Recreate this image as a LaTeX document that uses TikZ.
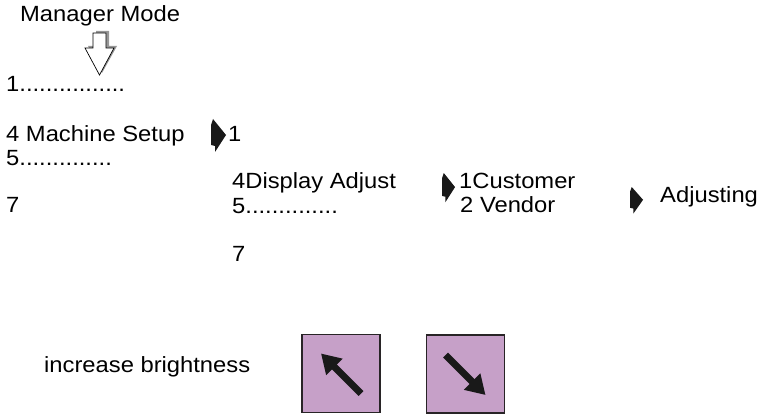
\documentclass[tikz,border=0pt]{standalone}
\usepackage{fontspec}
\setmainfont{Liberation Sans}[FakeStretch=1.08]
\usepackage{xcolor}
\usepackage{tikz}
\usetikzlibrary{arrows.meta,positioning,calc}
\definecolor{keyPurple}{RGB}{198,160,200}
\definecolor{keyEdge}  {RGB}{ 40, 36, 38}
\definecolor{shadeGray}{RGB}{150,150,150}

\tikzset{
  menutext/.style={anchor=base west,inner sep=0pt,font=\fontsize{22}{26}\selectfont},
  keybox/.style={draw=keyEdge,line width=1.3pt,fill=keyPurple,minimum width=78pt,minimum height=78pt,inner sep=0pt},
  keyarrow/.style={-{Triangle[length=19pt,width=22pt]},line width=7pt,black!90},
  menuarrow/.pic={
    \fill[black!90] (0,6) -- (2,0) -- (15,16) -- (4,33) -- (4,27) -- (0,26) -- cycle;
  }
}

\begin{document}
\begin{tikzpicture}[x=1pt,y=-1pt]
      \useasboundingbox (0,0) rectangle (759,414);
      % title and hollow arrow
      \node[menutext] (mgr) at (20,22) {Manager Mode};
      \fill[shadeGray] (96,31) -- (109,31) -- (109,46) -- (117,46) -- (102,73) -- (88,46) -- (96,46) -- cycle;
      \draw[black,fill=white,line width=0.7pt]
        (93,33) -- (106,33) -- (106,48) -- (114,48) -- (99.5,75) -- (85,48) -- (93,48) -- cycle;
      % first menu
      \node[menutext] (l1) at (6,92) {1................};
      \node[menutext] (l4) at (6,142) {4 Machine Setup};
      \node[menutext] (l5) at (6,165) {5..............};
      \node[menutext] (l7) at (6,212) {7};
      \pic at (211,119) {menuarrow};
      % second menu
      \node[menutext] (m1) at (228,142) {1};
      \node[menutext] (m4) at (232,188) {4Display Adjust};
      \node[menutext] (m5) at (232,213) {5..............};
      \node[menutext] (m7) at (232,261) {7};
      \pic[xscale=0.87,yscale=0.88] at (442,173) {menuarrow};
      % third menu
      \node[menutext] (c1) at (459,188) {1Customer};
      \node[menutext] (c2) at (460,212) {2 Vendor};
      \pic[xscale=0.87,yscale=0.8] at (630,187) {menuarrow};
      \node[menutext] (adj) at (660,202) {Adjusting};
      % keys
      \node[menutext] (inc) at (44,372) {increase brightness};
      \node[keybox] (up) at (341,373.5) {};
      \node[keybox] (down) at (465.5,374) {};
      \draw[keyarrow] ($(up.center)+(20,20)$) -- ($(up.center)+(-20,-20)$);
      \draw[keyarrow] ($(down.center)+(-20,-19)$) -- ($(down.center)+(20,21)$);
    \end{tikzpicture}
\end{document}
